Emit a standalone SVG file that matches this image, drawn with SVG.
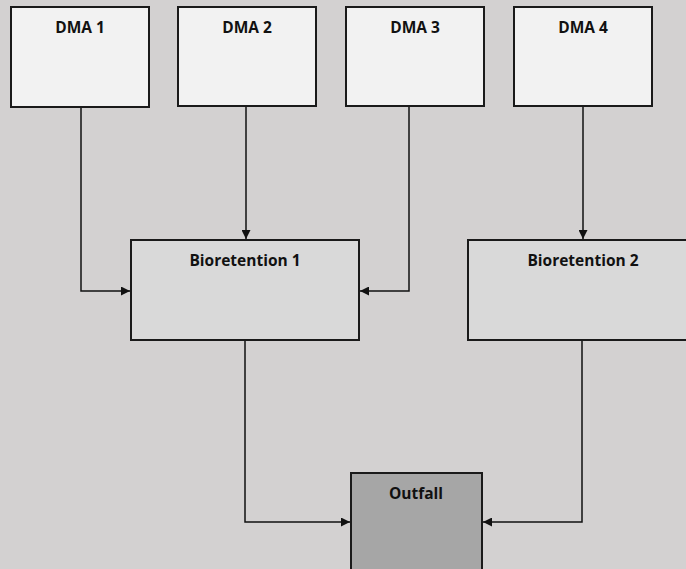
<svg xmlns="http://www.w3.org/2000/svg" width="686" height="569" viewBox="0 0 686 569">
<defs>
<style>
.box{stroke:#1a1a1a;stroke-width:2}
.dma{fill:#f2f2f2}
.bio{fill:#d9d9d9}
.out{fill:#a6a6a6}
.lbl{font-family:"Open Sans","Noto Sans",sans-serif;font-weight:bold;font-size:15.5px;fill:#111;text-anchor:middle}
.con{fill:none;stroke:#111;stroke-width:1.5;marker-end:url(#arr)}
</style>
<marker id="arr" viewBox="0 0 10 10" refX="10" refY="5" markerWidth="10" markerHeight="9" markerUnits="userSpaceOnUse" orient="auto">
<path d="M0,0 L10,5 L0,10 z" fill="#111"/>
</marker>
</defs>
<rect width="686" height="569" fill="#d3d1d1"/>
<g id="connectors">
<path class="con" d="M81,107 V291 H130"/>
<path class="con" d="M246,106 V239"/>
<path class="con" d="M409,106 V291 H360"/>
<path class="con" d="M583,106 V239"/>
<path class="con" d="M245,340 V522 H350"/>
<path class="con" d="M582,340 V522 H483"/>
</g>
<g id="dma1"><rect class="box dma" x="11" y="7" width="138" height="100"/><text class="lbl" x="80" y="33">DMA 1</text></g>
<g id="dma2"><rect class="box dma" x="178" y="7" width="138" height="99"/><text class="lbl" x="247" y="33">DMA 2</text></g>
<g id="dma3"><rect class="box dma" x="346" y="7" width="138" height="99"/><text class="lbl" x="415" y="33">DMA 3</text></g>
<g id="dma4"><rect class="box dma" x="514" y="7" width="138" height="99"/><text class="lbl" x="583" y="33">DMA 4</text></g>
<g id="bio1"><rect class="box bio" x="131" y="240" width="228" height="100"/><text class="lbl" x="245" y="266">Bioretention 1</text></g>
<g id="bio2"><rect class="box bio" x="468" y="240" width="230" height="100"/><text class="lbl" x="583" y="266">Bioretention 2</text></g>
<g id="outfall"><rect class="box out" x="351" y="473" width="131" height="110"/><text class="lbl" x="416" y="499">Outfall</text></g>
</svg>
